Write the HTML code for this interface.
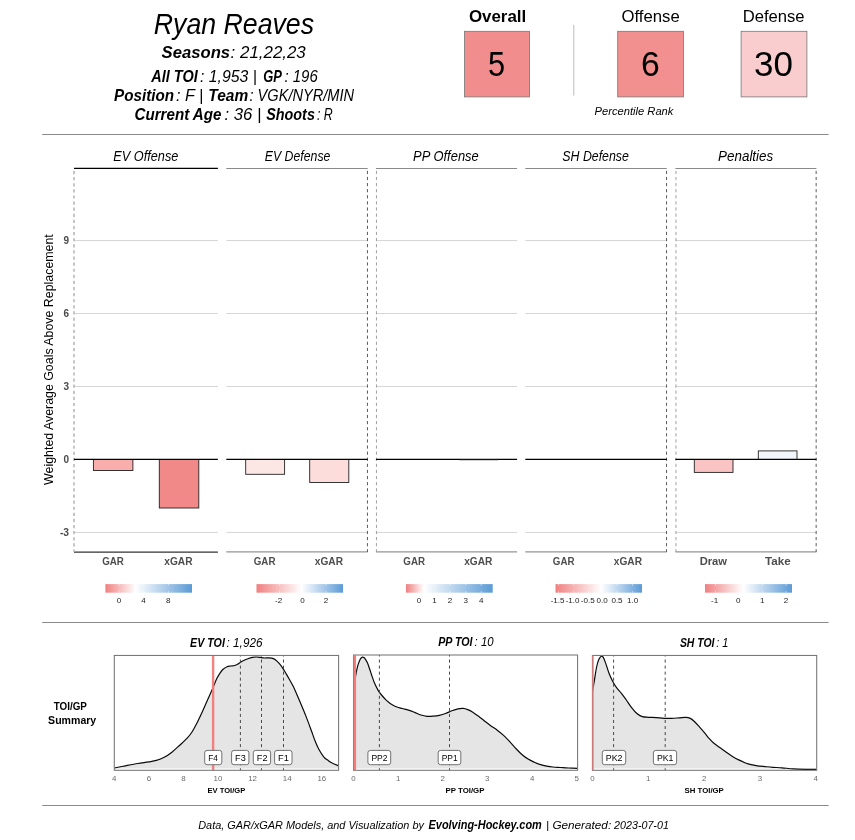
<!DOCTYPE html>
<html lang="en"><head><meta charset="utf-8"><title>Ryan Reaves - GAR/xGAR Player Card</title>
<style>html,body{margin:0;padding:0;background:#fff;}body{width:855px;height:840px;overflow:hidden;}svg{display:block;font-family:'Liberation Sans', 'DejaVu Sans', sans-serif;}</style>
</head><body>
<svg width="855" height="840" viewBox="0 0 855 840">
<rect x="0" y="0" width="855" height="840" fill="#ffffff"/>
<defs>
<linearGradient id="lg0" x1="0" x2="1" y1="0" y2="0"><stop offset="0" stop-color="#f08080"/><stop offset="0.350" stop-color="#ffffff"/><stop offset="1" stop-color="#5b9bd5"/></linearGradient>
<linearGradient id="lg1" x1="0" x2="1" y1="0" y2="0"><stop offset="0" stop-color="#f08080"/><stop offset="0.520" stop-color="#ffffff"/><stop offset="1" stop-color="#5b9bd5"/></linearGradient>
<linearGradient id="lg2" x1="0" x2="1" y1="0" y2="0"><stop offset="0" stop-color="#f08080"/><stop offset="0.207" stop-color="#ffffff"/><stop offset="1" stop-color="#5b9bd5"/></linearGradient>
<linearGradient id="lg3" x1="0" x2="1" y1="0" y2="0"><stop offset="0" stop-color="#f08080"/><stop offset="0.530" stop-color="#ffffff"/><stop offset="1" stop-color="#5b9bd5"/></linearGradient>
<linearGradient id="lg4" x1="0" x2="1" y1="0" y2="0"><stop offset="0" stop-color="#f08080"/><stop offset="0.440" stop-color="#ffffff"/><stop offset="1" stop-color="#5b9bd5"/></linearGradient>
</defs>
<text transform="translate(153.80,33.50) scale(0.9065,1)" font-size="29.47" font-style="italic">Ryan Reaves</text>
<text transform="translate(161.60,58.40) scale(0.9726,1)" font-size="17.14" font-weight="bold" font-style="italic">Seasons</text>
<text transform="translate(230.60,58.40) scale(0.9863,1)" font-size="17.14" font-style="italic">: 21,22,23</text>
<text transform="translate(151.30,81.80) scale(0.9011,1)" font-size="16.09" font-weight="bold" font-style="italic">All TOI</text>
<text transform="translate(200.00,81.80) scale(0.9817,1)" font-size="16.09" font-style="italic">: 1,953 |</text>
<text transform="translate(263.30,81.80) scale(0.8040,1)" font-size="16.09" font-weight="bold" font-style="italic">GP</text>
<text transform="translate(284.40,81.80) scale(0.9325,1)" font-size="16.09" font-style="italic">: 196</text>
<text transform="translate(114.10,100.80) scale(0.9466,1)" font-size="16.09" font-weight="bold" font-style="italic">Position</text>
<text transform="translate(175.90,100.80) scale(1.0068,1)" font-size="16.09" font-style="italic">: F |</text>
<text transform="translate(208.34,100.80) scale(0.9624,1)" font-size="16.09" font-weight="bold" font-style="italic">Team</text>
<text transform="translate(249.50,100.80) scale(0.9072,1)" font-size="16.09" font-style="italic">: VGK/NYR/MIN</text>
<text transform="translate(134.50,119.90) scale(0.9423,1)" font-size="16.09" font-weight="bold" font-style="italic">Current Age</text>
<text transform="translate(224.50,119.90) scale(1.0384,1)" font-size="16.09" font-style="italic">: 36 |</text>
<text transform="translate(266.20,119.90) scale(0.8929,1)" font-size="16.09" font-weight="bold" font-style="italic">Shoots</text>
<text transform="translate(317.00,119.90) scale(0.7691,1)" font-size="16.09" font-style="italic">: R</text>
<text transform="translate(468.90,22.20) scale(1.0125,1)" font-size="16.72" font-weight="bold">Overall</text>
<text transform="translate(621.50,21.90) scale(1.0000,1)" font-size="16.72">Offense</text>
<text transform="translate(742.71,21.90) scale(0.9947,1)" font-size="16.72">Defense</text>
<rect x="464.4" y="31.3" width="65.20" height="65.6" fill="#f28d8d" stroke="#777" stroke-width="0.8"/>
<rect x="617.7" y="31.3" width="65.80" height="65.6" fill="#f28f8f" stroke="#777" stroke-width="0.8"/>
<rect x="741.1" y="31.3" width="65.80" height="65.6" fill="#f9cdcd" stroke="#777" stroke-width="0.8"/>
<text transform="translate(488.04,76.20) scale(0.8611,1)" font-size="35.74">5</text>
<text transform="translate(641.06,76.20) scale(0.9444,1)" font-size="35.74">6</text>
<text transform="translate(753.92,76.20) scale(0.9796,1)" font-size="35.74">30</text>
<line x1="573.8" x2="573.8" y1="24.9" y2="95.6" stroke="#bdbdbd" stroke-width="1"/>
<text transform="translate(594.60,114.90) scale(0.9458,1)" font-size="11.81" font-style="italic">Percentile Rank</text>
<line x1="42.2" x2="828.6" y1="134.5" y2="134.5" stroke="#8a8a8a" stroke-width="1"/>
<line x1="42.2" x2="828.6" y1="622.5" y2="622.5" stroke="#8a8a8a" stroke-width="1"/>
<line x1="42.2" x2="828.6" y1="805.5" y2="805.5" stroke="#8a8a8a" stroke-width="1"/>
<line x1="74.0" x2="217.9" y1="240.56" y2="240.56" stroke="#d6d6d6" stroke-width="1"/>
<line x1="74.0" x2="217.9" y1="313.53" y2="313.53" stroke="#d6d6d6" stroke-width="1"/>
<line x1="74.0" x2="217.9" y1="386.50" y2="386.50" stroke="#d6d6d6" stroke-width="1"/>
<line x1="74.0" x2="217.9" y1="532.44" y2="532.44" stroke="#d6d6d6" stroke-width="1"/>
<line x1="74.0" x2="217.9" y1="168.45" y2="168.45" stroke="#000" stroke-width="1.3"/>
<line x1="74.0" x2="217.9" y1="552.1" y2="552.1" stroke="#333" stroke-width="1.3"/>
<line x1="74.0" x2="74.0" y1="171.0" y2="552.0" stroke="#bcbcbc" stroke-width="1.7" stroke-dasharray="3.2 2.903"/>
<rect x="93.4" y="459.47" width="39.50" height="11.03" fill="#f9aeae" stroke="#222" stroke-width="0.9"/>
<rect x="159.3" y="459.47" width="39.50" height="48.53" fill="#f28989" stroke="#222" stroke-width="0.9"/>
<line x1="74.0" x2="217.9" y1="459.47" y2="459.47" stroke="#000" stroke-width="1.2"/>
<text transform="translate(113.20,160.80) scale(0.9171,1)" font-size="13.9" font-style="italic">EV Offense</text>
<text transform="translate(102.15,564.70) scale(0.9441,1)" font-size="10.35" font-weight="bold" fill="#4d4d4d">GAR</text>
<text transform="translate(164.25,564.70) scale(0.9840,1)" font-size="10.35" font-weight="bold" fill="#4d4d4d">xGAR</text>
<line x1="226.3" x2="367.7" y1="240.56" y2="240.56" stroke="#d6d6d6" stroke-width="1"/>
<line x1="226.3" x2="367.7" y1="313.53" y2="313.53" stroke="#d6d6d6" stroke-width="1"/>
<line x1="226.3" x2="367.7" y1="386.50" y2="386.50" stroke="#d6d6d6" stroke-width="1"/>
<line x1="226.3" x2="367.7" y1="532.44" y2="532.44" stroke="#d6d6d6" stroke-width="1"/>
<line x1="226.3" x2="367.7" y1="168.45" y2="168.45" stroke="#8a8a8a" stroke-width="1.1"/>
<line x1="226.3" x2="367.7" y1="551.85" y2="551.85" stroke="#949494" stroke-width="1.15"/>
<line x1="367.45" x2="367.45" y1="170.8" y2="552.0" stroke="#5a5a5a" stroke-width="1" stroke-dasharray="3.2 2.903"/>
<rect x="245.7" y="459.47" width="38.90" height="14.83" fill="#fde7e5" stroke="#222" stroke-width="0.9"/>
<rect x="309.7" y="459.47" width="39.10" height="23.03" fill="#fddddb" stroke="#222" stroke-width="0.9"/>
<line x1="226.3" x2="367.7" y1="459.47" y2="459.47" stroke="#000" stroke-width="1.2"/>
<text transform="translate(264.80,160.80) scale(0.8857,1)" font-size="13.9" font-style="italic">EV Defense</text>
<text transform="translate(253.76,564.70) scale(0.9441,1)" font-size="10.35" font-weight="bold" fill="#4d4d4d">GAR</text>
<text transform="translate(314.74,564.70) scale(0.9840,1)" font-size="10.35" font-weight="bold" fill="#4d4d4d">xGAR</text>
<line x1="375.9" x2="517.1" y1="240.56" y2="240.56" stroke="#d6d6d6" stroke-width="1"/>
<line x1="375.9" x2="517.1" y1="313.53" y2="313.53" stroke="#d6d6d6" stroke-width="1"/>
<line x1="375.9" x2="517.1" y1="386.50" y2="386.50" stroke="#d6d6d6" stroke-width="1"/>
<line x1="375.9" x2="517.1" y1="532.44" y2="532.44" stroke="#d6d6d6" stroke-width="1"/>
<line x1="375.9" x2="517.1" y1="168.45" y2="168.45" stroke="#8a8a8a" stroke-width="1.1"/>
<line x1="375.9" x2="517.1" y1="551.85" y2="551.85" stroke="#949494" stroke-width="1.15"/>
<line x1="376.45" x2="376.45" y1="170.8" y2="552.0" stroke="#a0a0a0" stroke-width="1" stroke-dasharray="3.2 2.903"/>
<line x1="375.9" x2="517.1" y1="459.47" y2="459.47" stroke="#000" stroke-width="1.2"/>
<text transform="translate(413.10,160.80) scale(0.9312,1)" font-size="13.9" font-style="italic">PP Offense</text>
<text transform="translate(403.31,564.70) scale(0.9441,1)" font-size="10.35" font-weight="bold" fill="#4d4d4d">GAR</text>
<text transform="translate(464.19,564.70) scale(0.9840,1)" font-size="10.35" font-weight="bold" fill="#4d4d4d">xGAR</text>
<line x1="525.3" x2="666.8" y1="240.56" y2="240.56" stroke="#d6d6d6" stroke-width="1"/>
<line x1="525.3" x2="666.8" y1="313.53" y2="313.53" stroke="#d6d6d6" stroke-width="1"/>
<line x1="525.3" x2="666.8" y1="386.50" y2="386.50" stroke="#d6d6d6" stroke-width="1"/>
<line x1="525.3" x2="666.8" y1="532.44" y2="532.44" stroke="#d6d6d6" stroke-width="1"/>
<line x1="525.3" x2="666.8" y1="168.45" y2="168.45" stroke="#8a8a8a" stroke-width="1.1"/>
<line x1="525.3" x2="666.8" y1="551.85" y2="551.85" stroke="#949494" stroke-width="1.15"/>
<line x1="666.55" x2="666.55" y1="170.8" y2="552.0" stroke="#5a5a5a" stroke-width="1" stroke-dasharray="3.2 2.903"/>
<line x1="525.3" x2="666.8" y1="459.47" y2="459.47" stroke="#000" stroke-width="1.2"/>
<text transform="translate(562.30,160.80) scale(0.8900,1)" font-size="13.9" font-style="italic">SH Defense</text>
<text transform="translate(552.79,564.70) scale(0.9441,1)" font-size="10.35" font-weight="bold" fill="#4d4d4d">GAR</text>
<text transform="translate(613.81,564.70) scale(0.9840,1)" font-size="10.35" font-weight="bold" fill="#4d4d4d">xGAR</text>
<line x1="675.4" x2="816.4" y1="240.56" y2="240.56" stroke="#d6d6d6" stroke-width="1"/>
<line x1="675.4" x2="816.4" y1="313.53" y2="313.53" stroke="#d6d6d6" stroke-width="1"/>
<line x1="675.4" x2="816.4" y1="386.50" y2="386.50" stroke="#d6d6d6" stroke-width="1"/>
<line x1="675.4" x2="816.4" y1="532.44" y2="532.44" stroke="#d6d6d6" stroke-width="1"/>
<line x1="675.4" x2="816.4" y1="168.45" y2="168.45" stroke="#8a8a8a" stroke-width="1.1"/>
<line x1="675.4" x2="816.4" y1="551.85" y2="551.85" stroke="#949494" stroke-width="1.15"/>
<line x1="675.95" x2="675.95" y1="170.8" y2="552.0" stroke="#a0a0a0" stroke-width="1" stroke-dasharray="3.2 2.903"/>
<line x1="816.15" x2="816.15" y1="170.8" y2="552.0" stroke="#5a5a5a" stroke-width="1" stroke-dasharray="3.2 2.903"/>
<rect x="694.3" y="459.47" width="38.70" height="12.93" fill="#f9c4c3" stroke="#222" stroke-width="0.9"/>
<rect x="758.3" y="450.90" width="38.70" height="8.57" fill="#f2f6fb" stroke="#222" stroke-width="0.9"/>
<line x1="675.4" x2="816.4" y1="459.47" y2="459.47" stroke="#000" stroke-width="1.2"/>
<text transform="translate(718.10,160.80) scale(0.9651,1)" font-size="13.9" font-style="italic">Penalties</text>
<text transform="translate(699.65,564.70) scale(1.0820,1)" font-size="10.35" font-weight="bold" fill="#4d4d4d">Draw</text>
<text transform="translate(765.00,564.70) scale(1.1234,1)" font-size="10.35" font-weight="bold" fill="#4d4d4d">Take</text>
<line x1="459.4" x2="498.0" y1="460.25" y2="460.25" stroke="#8a8a8a" stroke-width="0.55"/>
<text transform="translate(63.50,244.16) scale(0.9500,1)" font-size="10.55" font-weight="bold" fill="#4a4a4a">9</text>
<text transform="translate(63.50,317.13) scale(0.9500,1)" font-size="10.55" font-weight="bold" fill="#4a4a4a">6</text>
<text transform="translate(63.50,390.10) scale(0.9500,1)" font-size="10.55" font-weight="bold" fill="#4a4a4a">3</text>
<text transform="translate(63.50,463.07) scale(0.9500,1)" font-size="10.55" font-weight="bold" fill="#4a4a4a">0</text>
<text transform="translate(59.90,536.04) scale(0.9777,1)" font-size="10.55" font-weight="bold" fill="#4a4a4a">-3</text>
<text transform="translate(53.1,484.90) rotate(-90) scale(0.9332,1)" font-size="13.27">Weighted Average Goals Above Replacement</text>
<rect x="105.4" y="584.1" width="86.60" height="8.6" fill="url(#lg0)"/>
<line x1="119.0" x2="119.0" y1="584.1" y2="585.8" stroke="#fff" stroke-width="0.6" opacity="0.8"/>
<line x1="119.0" x2="119.0" y1="591.0" y2="592.7" stroke="#fff" stroke-width="0.6" opacity="0.8"/>
<text transform="translate(119.00,603.20) scale(1.12,1)" text-anchor="middle" font-size="7.21" fill="#222">0</text>
<line x1="143.4" x2="143.4" y1="584.1" y2="585.8" stroke="#fff" stroke-width="0.6" opacity="0.8"/>
<line x1="143.4" x2="143.4" y1="591.0" y2="592.7" stroke="#fff" stroke-width="0.6" opacity="0.8"/>
<text transform="translate(143.40,603.20) scale(1.12,1)" text-anchor="middle" font-size="7.21" fill="#222">4</text>
<line x1="168.3" x2="168.3" y1="584.1" y2="585.8" stroke="#fff" stroke-width="0.6" opacity="0.8"/>
<line x1="168.3" x2="168.3" y1="591.0" y2="592.7" stroke="#fff" stroke-width="0.6" opacity="0.8"/>
<text transform="translate(168.30,603.20) scale(1.12,1)" text-anchor="middle" font-size="7.21" fill="#222">8</text>
<rect x="256.5" y="584.1" width="86.50" height="8.6" fill="url(#lg1)"/>
<line x1="279.4" x2="279.4" y1="584.1" y2="585.8" stroke="#fff" stroke-width="0.6" opacity="0.8"/>
<line x1="279.4" x2="279.4" y1="591.0" y2="592.7" stroke="#fff" stroke-width="0.6" opacity="0.8"/>
<text transform="translate(278.60,603.20) scale(1.12,1)" text-anchor="middle" font-size="7.21" fill="#222">-2</text>
<line x1="302.4" x2="302.4" y1="584.1" y2="585.8" stroke="#fff" stroke-width="0.6" opacity="0.8"/>
<line x1="302.4" x2="302.4" y1="591.0" y2="592.7" stroke="#fff" stroke-width="0.6" opacity="0.8"/>
<text transform="translate(302.40,603.20) scale(1.12,1)" text-anchor="middle" font-size="7.21" fill="#222">0</text>
<line x1="326.1" x2="326.1" y1="584.1" y2="585.8" stroke="#fff" stroke-width="0.6" opacity="0.8"/>
<line x1="326.1" x2="326.1" y1="591.0" y2="592.7" stroke="#fff" stroke-width="0.6" opacity="0.8"/>
<text transform="translate(326.10,603.20) scale(1.12,1)" text-anchor="middle" font-size="7.21" fill="#222">2</text>
<rect x="406.0" y="584.1" width="86.70" height="8.6" fill="url(#lg2)"/>
<line x1="419.0" x2="419.0" y1="584.1" y2="585.8" stroke="#fff" stroke-width="0.6" opacity="0.8"/>
<line x1="419.0" x2="419.0" y1="591.0" y2="592.7" stroke="#fff" stroke-width="0.6" opacity="0.8"/>
<text transform="translate(419.00,603.20) scale(1.12,1)" text-anchor="middle" font-size="7.21" fill="#222">0</text>
<line x1="434.4" x2="434.4" y1="584.1" y2="585.8" stroke="#fff" stroke-width="0.6" opacity="0.8"/>
<line x1="434.4" x2="434.4" y1="591.0" y2="592.7" stroke="#fff" stroke-width="0.6" opacity="0.8"/>
<text transform="translate(434.40,603.20) scale(1.12,1)" text-anchor="middle" font-size="7.21" fill="#222">1</text>
<line x1="449.9" x2="449.9" y1="584.1" y2="585.8" stroke="#fff" stroke-width="0.6" opacity="0.8"/>
<line x1="449.9" x2="449.9" y1="591.0" y2="592.7" stroke="#fff" stroke-width="0.6" opacity="0.8"/>
<text transform="translate(449.90,603.20) scale(1.12,1)" text-anchor="middle" font-size="7.21" fill="#222">2</text>
<line x1="465.8" x2="465.8" y1="584.1" y2="585.8" stroke="#fff" stroke-width="0.6" opacity="0.8"/>
<line x1="465.8" x2="465.8" y1="591.0" y2="592.7" stroke="#fff" stroke-width="0.6" opacity="0.8"/>
<text transform="translate(465.80,603.20) scale(1.12,1)" text-anchor="middle" font-size="7.21" fill="#222">3</text>
<line x1="481.2" x2="481.2" y1="584.1" y2="585.8" stroke="#fff" stroke-width="0.6" opacity="0.8"/>
<line x1="481.2" x2="481.2" y1="591.0" y2="592.7" stroke="#fff" stroke-width="0.6" opacity="0.8"/>
<text transform="translate(481.20,603.20) scale(1.12,1)" text-anchor="middle" font-size="7.21" fill="#222">4</text>
<rect x="555.5" y="584.1" width="86.50" height="8.6" fill="url(#lg3)"/>
<line x1="558.4" x2="558.4" y1="584.1" y2="585.8" stroke="#fff" stroke-width="0.6" opacity="0.8"/>
<line x1="558.4" x2="558.4" y1="591.0" y2="592.7" stroke="#fff" stroke-width="0.6" opacity="0.8"/>
<text transform="translate(557.60,603.20) scale(1.12,1)" text-anchor="middle" font-size="7.21" fill="#222">-1.5</text>
<line x1="573.4" x2="573.4" y1="584.1" y2="585.8" stroke="#fff" stroke-width="0.6" opacity="0.8"/>
<line x1="573.4" x2="573.4" y1="591.0" y2="592.7" stroke="#fff" stroke-width="0.6" opacity="0.8"/>
<text transform="translate(572.60,603.20) scale(1.12,1)" text-anchor="middle" font-size="7.21" fill="#222">-1.0</text>
<line x1="588.6" x2="588.6" y1="584.1" y2="585.8" stroke="#fff" stroke-width="0.6" opacity="0.8"/>
<line x1="588.6" x2="588.6" y1="591.0" y2="592.7" stroke="#fff" stroke-width="0.6" opacity="0.8"/>
<text transform="translate(587.80,603.20) scale(1.12,1)" text-anchor="middle" font-size="7.21" fill="#222">-0.5</text>
<line x1="602.2" x2="602.2" y1="584.1" y2="585.8" stroke="#fff" stroke-width="0.6" opacity="0.8"/>
<line x1="602.2" x2="602.2" y1="591.0" y2="592.7" stroke="#fff" stroke-width="0.6" opacity="0.8"/>
<text transform="translate(602.20,603.20) scale(1.12,1)" text-anchor="middle" font-size="7.21" fill="#222">0.0</text>
<line x1="617.0" x2="617.0" y1="584.1" y2="585.8" stroke="#fff" stroke-width="0.6" opacity="0.8"/>
<line x1="617.0" x2="617.0" y1="591.0" y2="592.7" stroke="#fff" stroke-width="0.6" opacity="0.8"/>
<text transform="translate(617.00,603.20) scale(1.12,1)" text-anchor="middle" font-size="7.21" fill="#222">0.5</text>
<line x1="632.6" x2="632.6" y1="584.1" y2="585.8" stroke="#fff" stroke-width="0.6" opacity="0.8"/>
<line x1="632.6" x2="632.6" y1="591.0" y2="592.7" stroke="#fff" stroke-width="0.6" opacity="0.8"/>
<text transform="translate(632.60,603.20) scale(1.12,1)" text-anchor="middle" font-size="7.21" fill="#222">1.0</text>
<rect x="705.0" y="584.1" width="87.00" height="8.6" fill="url(#lg4)"/>
<line x1="715.4" x2="715.4" y1="584.1" y2="585.8" stroke="#fff" stroke-width="0.6" opacity="0.8"/>
<line x1="715.4" x2="715.4" y1="591.0" y2="592.7" stroke="#fff" stroke-width="0.6" opacity="0.8"/>
<text transform="translate(714.60,603.20) scale(1.12,1)" text-anchor="middle" font-size="7.21" fill="#222">-1</text>
<line x1="738.3" x2="738.3" y1="584.1" y2="585.8" stroke="#fff" stroke-width="0.6" opacity="0.8"/>
<line x1="738.3" x2="738.3" y1="591.0" y2="592.7" stroke="#fff" stroke-width="0.6" opacity="0.8"/>
<text transform="translate(738.30,603.20) scale(1.12,1)" text-anchor="middle" font-size="7.21" fill="#222">0</text>
<line x1="762.3" x2="762.3" y1="584.1" y2="585.8" stroke="#fff" stroke-width="0.6" opacity="0.8"/>
<line x1="762.3" x2="762.3" y1="591.0" y2="592.7" stroke="#fff" stroke-width="0.6" opacity="0.8"/>
<text transform="translate(762.30,603.20) scale(1.12,1)" text-anchor="middle" font-size="7.21" fill="#222">1</text>
<line x1="786.0" x2="786.0" y1="584.1" y2="585.8" stroke="#fff" stroke-width="0.6" opacity="0.8"/>
<line x1="786.0" x2="786.0" y1="591.0" y2="592.7" stroke="#fff" stroke-width="0.6" opacity="0.8"/>
<text transform="translate(786.00,603.20) scale(1.12,1)" text-anchor="middle" font-size="7.21" fill="#222">2</text>
<clipPath id="cp0"><rect x="114.3" y="655.45" width="224.30" height="114.85"/></clipPath>
<rect x="114.3" y="655.45" width="224.30" height="114.85" fill="#fff"/>
<path d="M114.30,768.00 C116.17,767.63 121.57,766.55 125.50,765.80 C129.43,765.05 134.03,764.15 137.90,763.50 C141.77,762.85 145.62,762.42 148.70,761.90 C151.78,761.38 153.82,761.17 156.40,760.40 C158.98,759.63 161.62,758.67 164.20,757.30 C166.78,755.93 169.32,754.22 171.90,752.20 C174.48,750.18 177.12,747.58 179.70,745.20 C182.28,742.82 185.35,740.10 187.40,737.90 C189.45,735.70 190.45,734.40 192.00,732.00 C193.55,729.60 194.88,727.10 196.70,723.50 C198.52,719.90 200.83,714.92 202.90,710.40 C204.97,705.88 207.43,700.15 209.10,696.40 C210.77,692.65 211.62,690.87 212.90,687.90 C214.18,684.93 215.62,681.05 216.80,678.60 C217.98,676.15 218.95,674.75 220.00,673.20 C221.05,671.65 221.93,670.38 223.10,669.30 C224.27,668.22 225.72,667.25 227.00,666.70 C228.28,666.15 229.52,666.20 230.80,666.00 C232.08,665.80 233.40,665.90 234.70,665.50 C236.00,665.10 237.18,664.38 238.60,663.60 C240.02,662.82 241.65,661.60 243.20,660.80 C244.75,660.00 246.35,659.37 247.90,658.80 C249.45,658.23 251.08,657.70 252.50,657.40 C253.92,657.10 255.12,657.00 256.40,657.00 C257.68,657.00 258.92,657.23 260.20,657.40 C261.48,657.57 262.80,657.92 264.10,658.00 C265.40,658.08 266.70,657.87 268.00,657.90 C269.30,657.93 270.62,657.85 271.90,658.20 C273.18,658.55 274.42,659.05 275.70,660.00 C276.98,660.95 278.30,662.35 279.60,663.90 C280.90,665.45 282.08,667.10 283.50,669.30 C284.92,671.50 286.55,674.38 288.10,677.10 C289.65,679.82 291.25,682.50 292.80,685.60 C294.35,688.70 295.87,692.22 297.40,695.70 C298.93,699.18 300.45,702.77 302.00,706.50 C303.55,710.23 305.15,714.10 306.70,718.10 C308.25,722.10 309.88,726.63 311.30,730.50 C312.72,734.37 313.90,738.08 315.20,741.30 C316.50,744.52 317.68,747.22 319.10,749.80 C320.52,752.38 322.15,754.98 323.70,756.80 C325.25,758.62 326.85,759.58 328.40,760.70 C329.95,761.82 331.30,762.65 333.00,763.50 C334.70,764.35 337.67,765.42 338.60,765.80 L338.6,768.6 L114.3,768.6 Z" fill="#e5e5e5" stroke="none"/>
<path d="M114.30,768.00 C116.17,767.63 121.57,766.55 125.50,765.80 C129.43,765.05 134.03,764.15 137.90,763.50 C141.77,762.85 145.62,762.42 148.70,761.90 C151.78,761.38 153.82,761.17 156.40,760.40 C158.98,759.63 161.62,758.67 164.20,757.30 C166.78,755.93 169.32,754.22 171.90,752.20 C174.48,750.18 177.12,747.58 179.70,745.20 C182.28,742.82 185.35,740.10 187.40,737.90 C189.45,735.70 190.45,734.40 192.00,732.00 C193.55,729.60 194.88,727.10 196.70,723.50 C198.52,719.90 200.83,714.92 202.90,710.40 C204.97,705.88 207.43,700.15 209.10,696.40 C210.77,692.65 211.62,690.87 212.90,687.90 C214.18,684.93 215.62,681.05 216.80,678.60 C217.98,676.15 218.95,674.75 220.00,673.20 C221.05,671.65 221.93,670.38 223.10,669.30 C224.27,668.22 225.72,667.25 227.00,666.70 C228.28,666.15 229.52,666.20 230.80,666.00 C232.08,665.80 233.40,665.90 234.70,665.50 C236.00,665.10 237.18,664.38 238.60,663.60 C240.02,662.82 241.65,661.60 243.20,660.80 C244.75,660.00 246.35,659.37 247.90,658.80 C249.45,658.23 251.08,657.70 252.50,657.40 C253.92,657.10 255.12,657.00 256.40,657.00 C257.68,657.00 258.92,657.23 260.20,657.40 C261.48,657.57 262.80,657.92 264.10,658.00 C265.40,658.08 266.70,657.87 268.00,657.90 C269.30,657.93 270.62,657.85 271.90,658.20 C273.18,658.55 274.42,659.05 275.70,660.00 C276.98,660.95 278.30,662.35 279.60,663.90 C280.90,665.45 282.08,667.10 283.50,669.30 C284.92,671.50 286.55,674.38 288.10,677.10 C289.65,679.82 291.25,682.50 292.80,685.60 C294.35,688.70 295.87,692.22 297.40,695.70 C298.93,699.18 300.45,702.77 302.00,706.50 C303.55,710.23 305.15,714.10 306.70,718.10 C308.25,722.10 309.88,726.63 311.30,730.50 C312.72,734.37 313.90,738.08 315.20,741.30 C316.50,744.52 317.68,747.22 319.10,749.80 C320.52,752.38 322.15,754.98 323.70,756.80 C325.25,758.62 326.85,759.58 328.40,760.70 C329.95,761.82 331.30,762.65 333.00,763.50 C334.70,764.35 337.67,765.42 338.60,765.80" fill="none" stroke="#0a0a0a" stroke-width="1.2" stroke-linejoin="round" clip-path="url(#cp0)"/>
<line x1="240.4" x2="240.4" y1="771.3" y2="655.45" stroke="#484848" stroke-width="1" stroke-dasharray="3.02 3.02" clip-path="url(#cp0)"/>
<line x1="261.5" x2="261.5" y1="771.3" y2="655.45" stroke="#484848" stroke-width="1" stroke-dasharray="3.02 3.02" clip-path="url(#cp0)"/>
<line x1="283.5" x2="283.5" y1="771.3" y2="655.45" stroke="#484848" stroke-width="1" stroke-dasharray="3.02 3.02" clip-path="url(#cp0)"/>
<line x1="213.1" x2="213.1" y1="655.45" y2="770.3" stroke="#f37b7b" stroke-width="2.4" opacity="0.95"/>
<rect x="114.3" y="655.45" width="224.30" height="114.85" fill="none" stroke="#757575" stroke-width="1.05"/>
<rect x="204.7" y="750.4" width="17.10" height="14.3" rx="2.4" ry="2.4" fill="#fff" stroke="#505050" stroke-width="0.8"/>
<text transform="translate(208.20,760.80) scale(0.8461,1)" font-size="9.72">F4</text>
<rect x="231.6" y="750.4" width="17.30" height="14.3" rx="2.4" ry="2.4" fill="#fff" stroke="#505050" stroke-width="0.8"/>
<text transform="translate(235.10,760.80) scale(0.9418,1)" font-size="9.72">F3</text>
<rect x="253.3" y="750.4" width="17.30" height="14.3" rx="2.4" ry="2.4" fill="#fff" stroke="#505050" stroke-width="0.8"/>
<text transform="translate(256.80,760.80) scale(0.9418,1)" font-size="9.72">F2</text>
<rect x="274.6" y="750.4" width="17.40" height="14.3" rx="2.4" ry="2.4" fill="#fff" stroke="#505050" stroke-width="0.8"/>
<text transform="translate(278.10,760.80) scale(0.9509,1)" font-size="9.72">F1</text>
<text transform="translate(114.30,781.10) scale(1.1,1)" text-anchor="middle" font-size="7.21" fill="#6a6a6a">4</text>
<text transform="translate(148.90,781.10) scale(1.1,1)" text-anchor="middle" font-size="7.21" fill="#6a6a6a">6</text>
<text transform="translate(183.50,781.10) scale(1.1,1)" text-anchor="middle" font-size="7.21" fill="#6a6a6a">8</text>
<text transform="translate(218.00,781.10) scale(1.1,1)" text-anchor="middle" font-size="7.21" fill="#6a6a6a">10</text>
<text transform="translate(252.60,781.10) scale(1.1,1)" text-anchor="middle" font-size="7.21" fill="#6a6a6a">12</text>
<text transform="translate(287.20,781.10) scale(1.1,1)" text-anchor="middle" font-size="7.21" fill="#6a6a6a">14</text>
<text transform="translate(321.80,781.10) scale(1.1,1)" text-anchor="middle" font-size="7.21" fill="#6a6a6a">16</text>
<text transform="translate(207.50,792.60) scale(0.9428,1)" font-size="8.05" font-weight="bold">EV TOI/GP</text>
<text transform="translate(190.10,646.75) scale(0.8659,1)" font-size="12.33" font-weight="bold" font-style="italic">EV TOI</text>
<text transform="translate(226.60,646.75) scale(0.9513,1)" font-size="12.33" font-style="italic">: 1,926</text>
<clipPath id="cp1"><rect x="353.5" y="655.0" width="224.10" height="115.30"/></clipPath>
<rect x="353.5" y="655.0" width="224.10" height="115.30" fill="#fff"/>
<path d="M353.40,697.10 C353.58,694.77 354.03,687.18 354.50,683.10 C354.97,679.02 355.62,675.65 356.20,672.60 C356.78,669.55 357.35,667.00 358.00,664.80 C358.65,662.60 359.53,660.57 360.10,659.40 C360.67,658.23 360.98,658.17 361.40,657.80 C361.82,657.43 362.20,657.25 362.60,657.20 C363.00,657.15 363.40,657.27 363.80,657.50 C364.20,657.73 364.38,657.67 365.00,658.60 C365.62,659.53 366.68,661.24 367.50,663.10 C368.32,664.96 369.15,667.58 369.90,669.75 C370.65,671.92 371.23,673.88 372.00,676.10 C372.77,678.33 373.50,680.77 374.50,683.10 C375.50,685.43 376.83,688.12 378.00,690.10 C379.17,692.08 380.22,693.42 381.50,695.00 C382.78,696.58 384.53,698.42 385.70,699.60 C386.87,700.78 387.55,701.33 388.50,702.10 C389.45,702.87 390.00,703.38 391.40,704.20 C392.80,705.02 395.08,706.28 396.90,707.00 C398.72,707.72 400.37,707.98 402.30,708.50 C404.23,709.02 406.43,709.45 408.50,710.10 C410.57,710.75 412.63,711.58 414.70,712.40 C416.77,713.22 418.85,714.35 420.90,715.00 C422.95,715.65 424.95,716.12 427.00,716.30 C429.05,716.48 431.13,716.27 433.20,716.10 C435.27,715.93 437.33,715.73 439.40,715.30 C441.47,714.87 443.53,714.25 445.60,713.50 C447.67,712.75 449.73,711.58 451.80,710.80 C453.87,710.02 456.10,709.20 458.00,708.80 C459.90,708.40 461.58,708.27 463.20,708.40 C464.82,708.53 466.17,709.02 467.70,709.60 C469.23,710.18 470.58,710.78 472.40,711.90 C474.22,713.02 476.53,714.75 478.60,716.30 C480.67,717.85 482.73,719.60 484.80,721.20 C486.87,722.80 488.93,724.40 491.00,725.90 C493.07,727.40 495.15,728.67 497.20,730.20 C499.25,731.73 501.25,733.25 503.30,735.10 C505.35,736.95 507.43,739.10 509.50,741.30 C511.57,743.50 513.63,746.10 515.70,748.30 C517.77,750.50 519.83,752.70 521.90,754.50 C523.97,756.30 526.03,757.82 528.10,759.10 C530.17,760.38 532.23,761.28 534.30,762.20 C536.37,763.12 538.43,763.95 540.50,764.60 C542.57,765.25 544.63,765.70 546.70,766.10 C548.77,766.50 550.58,766.77 552.90,767.00 C555.22,767.23 558.02,767.33 560.60,767.50 C563.18,767.67 565.57,767.85 568.40,768.00 C571.23,768.15 576.07,768.33 577.60,768.40 L577.6,768.6 L353.5,768.6 Z" fill="#e5e5e5" stroke="none"/>
<path d="M353.40,697.10 C353.58,694.77 354.03,687.18 354.50,683.10 C354.97,679.02 355.62,675.65 356.20,672.60 C356.78,669.55 357.35,667.00 358.00,664.80 C358.65,662.60 359.53,660.57 360.10,659.40 C360.67,658.23 360.98,658.17 361.40,657.80 C361.82,657.43 362.20,657.25 362.60,657.20 C363.00,657.15 363.40,657.27 363.80,657.50 C364.20,657.73 364.38,657.67 365.00,658.60 C365.62,659.53 366.68,661.24 367.50,663.10 C368.32,664.96 369.15,667.58 369.90,669.75 C370.65,671.92 371.23,673.88 372.00,676.10 C372.77,678.33 373.50,680.77 374.50,683.10 C375.50,685.43 376.83,688.12 378.00,690.10 C379.17,692.08 380.22,693.42 381.50,695.00 C382.78,696.58 384.53,698.42 385.70,699.60 C386.87,700.78 387.55,701.33 388.50,702.10 C389.45,702.87 390.00,703.38 391.40,704.20 C392.80,705.02 395.08,706.28 396.90,707.00 C398.72,707.72 400.37,707.98 402.30,708.50 C404.23,709.02 406.43,709.45 408.50,710.10 C410.57,710.75 412.63,711.58 414.70,712.40 C416.77,713.22 418.85,714.35 420.90,715.00 C422.95,715.65 424.95,716.12 427.00,716.30 C429.05,716.48 431.13,716.27 433.20,716.10 C435.27,715.93 437.33,715.73 439.40,715.30 C441.47,714.87 443.53,714.25 445.60,713.50 C447.67,712.75 449.73,711.58 451.80,710.80 C453.87,710.02 456.10,709.20 458.00,708.80 C459.90,708.40 461.58,708.27 463.20,708.40 C464.82,708.53 466.17,709.02 467.70,709.60 C469.23,710.18 470.58,710.78 472.40,711.90 C474.22,713.02 476.53,714.75 478.60,716.30 C480.67,717.85 482.73,719.60 484.80,721.20 C486.87,722.80 488.93,724.40 491.00,725.90 C493.07,727.40 495.15,728.67 497.20,730.20 C499.25,731.73 501.25,733.25 503.30,735.10 C505.35,736.95 507.43,739.10 509.50,741.30 C511.57,743.50 513.63,746.10 515.70,748.30 C517.77,750.50 519.83,752.70 521.90,754.50 C523.97,756.30 526.03,757.82 528.10,759.10 C530.17,760.38 532.23,761.28 534.30,762.20 C536.37,763.12 538.43,763.95 540.50,764.60 C542.57,765.25 544.63,765.70 546.70,766.10 C548.77,766.50 550.58,766.77 552.90,767.00 C555.22,767.23 558.02,767.33 560.60,767.50 C563.18,767.67 565.57,767.85 568.40,768.00 C571.23,768.15 576.07,768.33 577.60,768.40" fill="none" stroke="#0a0a0a" stroke-width="1.2" stroke-linejoin="round" clip-path="url(#cp1)"/>
<line x1="379.4" x2="379.4" y1="771.3" y2="655.0" stroke="#484848" stroke-width="1" stroke-dasharray="3.02 3.02" clip-path="url(#cp1)"/>
<line x1="449.5" x2="449.5" y1="771.3" y2="655.0" stroke="#484848" stroke-width="1" stroke-dasharray="3.02 3.02" clip-path="url(#cp1)"/>
<line x1="354.8" x2="354.8" y1="655.0" y2="770.3" stroke="#f37b7b" stroke-width="2.5" opacity="0.95"/>
<rect x="353.5" y="655.0" width="224.10" height="115.30" fill="none" stroke="#757575" stroke-width="1.05"/>
<line x1="354.8" x2="354.8" y1="655.0" y2="770.3" stroke="#f37b7b" stroke-width="2.5" opacity="0.95"/>
<rect x="367.9" y="750.4" width="22.80" height="14.3" rx="2.4" ry="2.4" fill="#fff" stroke="#505050" stroke-width="0.8"/>
<text transform="translate(371.40,760.80) scale(0.8795,1)" font-size="9.72">PP2</text>
<rect x="438.2" y="750.4" width="22.60" height="14.3" rx="2.4" ry="2.4" fill="#fff" stroke="#505050" stroke-width="0.8"/>
<text transform="translate(441.70,760.80) scale(0.8684,1)" font-size="9.72">PP1</text>
<text transform="translate(353.50,781.10) scale(1.1,1)" text-anchor="middle" font-size="7.21" fill="#6a6a6a">0</text>
<text transform="translate(398.10,781.10) scale(1.1,1)" text-anchor="middle" font-size="7.21" fill="#6a6a6a">1</text>
<text transform="translate(442.60,781.10) scale(1.1,1)" text-anchor="middle" font-size="7.21" fill="#6a6a6a">2</text>
<text transform="translate(487.10,781.10) scale(1.1,1)" text-anchor="middle" font-size="7.21" fill="#6a6a6a">3</text>
<text transform="translate(532.30,781.10) scale(1.1,1)" text-anchor="middle" font-size="7.21" fill="#6a6a6a">4</text>
<text transform="translate(576.60,781.10) scale(1.1,1)" text-anchor="middle" font-size="7.21" fill="#6a6a6a">5</text>
<text transform="translate(445.50,792.60) scale(0.9772,1)" font-size="8.05" font-weight="bold">PP TOI/GP</text>
<text transform="translate(438.20,645.80) scale(0.8659,1)" font-size="12.33" font-weight="bold" font-style="italic">PP TOI</text>
<text transform="translate(474.60,645.80) scale(0.9224,1)" font-size="12.33" font-style="italic">: 10</text>
<clipPath id="cp2"><rect x="592.4" y="655.45" width="224.30" height="114.85"/></clipPath>
<rect x="592.4" y="655.45" width="224.30" height="114.85" fill="#fff"/>
<path d="M592.40,691.80 C592.72,690.00 593.60,685.13 594.30,681.00 C595.00,676.87 595.83,670.62 596.60,667.00 C597.37,663.38 598.12,661.10 598.90,659.30 C599.68,657.50 600.57,656.52 601.30,656.20 C602.03,655.88 602.53,656.12 603.30,657.40 C604.07,658.68 604.95,661.27 605.90,663.90 C606.85,666.53 607.83,670.23 609.00,673.20 C610.17,676.17 611.62,679.25 612.90,681.70 C614.18,684.15 615.28,685.97 616.70,687.90 C618.12,689.83 619.85,691.37 621.40,693.30 C622.95,695.23 624.33,697.17 626.00,699.50 C627.67,701.83 629.58,704.97 631.40,707.30 C633.22,709.63 635.08,711.95 636.90,713.50 C638.72,715.05 640.37,715.97 642.30,716.60 C644.23,717.23 646.18,717.13 648.50,717.30 C650.82,717.47 653.62,717.43 656.20,717.60 C658.78,717.77 661.42,718.17 664.00,718.30 C666.58,718.43 669.13,718.48 671.70,718.40 C674.27,718.32 677.08,717.98 679.40,717.80 C681.72,717.62 683.78,717.20 685.60,717.30 C687.42,717.40 688.75,717.62 690.30,718.40 C691.85,719.18 693.35,720.55 694.90,722.00 C696.45,723.45 697.98,725.30 699.60,727.10 C701.22,728.90 702.98,730.87 704.60,732.80 C706.22,734.73 707.75,736.95 709.30,738.70 C710.85,740.45 712.10,741.78 713.90,743.30 C715.70,744.82 718.03,746.32 720.10,747.80 C722.17,749.28 724.23,750.75 726.30,752.20 C728.37,753.65 730.43,755.22 732.50,756.50 C734.57,757.78 736.63,758.87 738.70,759.90 C740.77,760.93 742.83,761.90 744.90,762.70 C746.97,763.50 749.03,764.18 751.10,764.70 C753.17,765.22 754.98,765.48 757.30,765.80 C759.62,766.12 762.42,766.35 765.00,766.60 C767.58,766.85 769.97,767.10 772.80,767.30 C775.63,767.50 778.65,767.53 782.00,767.80 C785.35,768.07 789.02,768.65 792.90,768.90 C796.78,769.15 801.33,769.23 805.30,769.30 C809.27,769.37 814.80,769.30 816.70,769.30 L816.7,768.6 L592.4,768.6 Z" fill="#e5e5e5" stroke="none"/>
<path d="M592.40,691.80 C592.72,690.00 593.60,685.13 594.30,681.00 C595.00,676.87 595.83,670.62 596.60,667.00 C597.37,663.38 598.12,661.10 598.90,659.30 C599.68,657.50 600.57,656.52 601.30,656.20 C602.03,655.88 602.53,656.12 603.30,657.40 C604.07,658.68 604.95,661.27 605.90,663.90 C606.85,666.53 607.83,670.23 609.00,673.20 C610.17,676.17 611.62,679.25 612.90,681.70 C614.18,684.15 615.28,685.97 616.70,687.90 C618.12,689.83 619.85,691.37 621.40,693.30 C622.95,695.23 624.33,697.17 626.00,699.50 C627.67,701.83 629.58,704.97 631.40,707.30 C633.22,709.63 635.08,711.95 636.90,713.50 C638.72,715.05 640.37,715.97 642.30,716.60 C644.23,717.23 646.18,717.13 648.50,717.30 C650.82,717.47 653.62,717.43 656.20,717.60 C658.78,717.77 661.42,718.17 664.00,718.30 C666.58,718.43 669.13,718.48 671.70,718.40 C674.27,718.32 677.08,717.98 679.40,717.80 C681.72,717.62 683.78,717.20 685.60,717.30 C687.42,717.40 688.75,717.62 690.30,718.40 C691.85,719.18 693.35,720.55 694.90,722.00 C696.45,723.45 697.98,725.30 699.60,727.10 C701.22,728.90 702.98,730.87 704.60,732.80 C706.22,734.73 707.75,736.95 709.30,738.70 C710.85,740.45 712.10,741.78 713.90,743.30 C715.70,744.82 718.03,746.32 720.10,747.80 C722.17,749.28 724.23,750.75 726.30,752.20 C728.37,753.65 730.43,755.22 732.50,756.50 C734.57,757.78 736.63,758.87 738.70,759.90 C740.77,760.93 742.83,761.90 744.90,762.70 C746.97,763.50 749.03,764.18 751.10,764.70 C753.17,765.22 754.98,765.48 757.30,765.80 C759.62,766.12 762.42,766.35 765.00,766.60 C767.58,766.85 769.97,767.10 772.80,767.30 C775.63,767.50 778.65,767.53 782.00,767.80 C785.35,768.07 789.02,768.65 792.90,768.90 C796.78,769.15 801.33,769.23 805.30,769.30 C809.27,769.37 814.80,769.30 816.70,769.30" fill="none" stroke="#0a0a0a" stroke-width="1.2" stroke-linejoin="round" clip-path="url(#cp2)"/>
<line x1="613.6" x2="613.6" y1="771.3" y2="655.45" stroke="#484848" stroke-width="1" stroke-dasharray="3.02 3.02" clip-path="url(#cp2)"/>
<line x1="665.2" x2="665.2" y1="771.3" y2="655.45" stroke="#484848" stroke-width="1" stroke-dasharray="3.02 3.02" clip-path="url(#cp2)"/>
<line x1="592.9" x2="592.9" y1="655.45" y2="770.3" stroke="#f37b7b" stroke-width="1.2" opacity="0.95"/>
<rect x="592.4" y="655.45" width="224.30" height="114.85" fill="none" stroke="#757575" stroke-width="1.05"/>
<line x1="592.9" x2="592.9" y1="655.45" y2="770.3" stroke="#f37b7b" stroke-width="1.2" opacity="0.95"/>
<rect x="602.3" y="750.4" width="23.40" height="14.3" rx="2.4" ry="2.4" fill="#fff" stroke="#505050" stroke-width="0.8"/>
<text transform="translate(605.80,760.80) scale(0.9129,1)" font-size="9.72">PK2</text>
<rect x="653.4" y="750.4" width="23.20" height="14.3" rx="2.4" ry="2.4" fill="#fff" stroke="#505050" stroke-width="0.8"/>
<text transform="translate(656.90,760.80) scale(0.9018,1)" font-size="9.72">PK1</text>
<text transform="translate(592.40,781.10) scale(1.1,1)" text-anchor="middle" font-size="7.21" fill="#6a6a6a">0</text>
<text transform="translate(648.10,781.10) scale(1.1,1)" text-anchor="middle" font-size="7.21" fill="#6a6a6a">1</text>
<text transform="translate(704.30,781.10) scale(1.1,1)" text-anchor="middle" font-size="7.21" fill="#6a6a6a">2</text>
<text transform="translate(760.00,781.10) scale(1.1,1)" text-anchor="middle" font-size="7.21" fill="#6a6a6a">3</text>
<text transform="translate(815.80,781.10) scale(1.1,1)" text-anchor="middle" font-size="7.21" fill="#6a6a6a">4</text>
<text transform="translate(684.50,792.60) scale(0.9715,1)" font-size="8.05" font-weight="bold">SH TOI/GP</text>
<text transform="translate(679.90,646.70) scale(0.8468,1)" font-size="12.33" font-weight="bold" font-style="italic">SH TOI</text>
<text transform="translate(716.20,646.70) scale(0.8949,1)" font-size="12.33" font-style="italic">: 1</text>
<text transform="translate(53.70,709.70) scale(0.9242,1)" font-size="10.66" font-weight="bold">TOI/GP</text>
<text transform="translate(48.10,723.70) scale(0.9909,1)" font-size="10.66" font-weight="bold">Summary</text>
<text transform="translate(198.20,828.70) scale(0.9501,1)" font-size="11.49" font-style="italic">Data, GAR/xGAR Models, and Visualization by</text>
<text transform="translate(428.50,829.00) scale(0.8733,1)" font-size="12.54" font-weight="bold" font-style="italic">Evolving-Hockey.com</text>
<text transform="translate(546.08,828.70) scale(1.0233,1)" font-size="11.49" font-style="italic">| Generated:</text>
<text transform="translate(614.03,828.70) scale(0.9333,1)" font-size="11.49" font-style="italic">2023-07-01</text>
</svg>
</body></html>
